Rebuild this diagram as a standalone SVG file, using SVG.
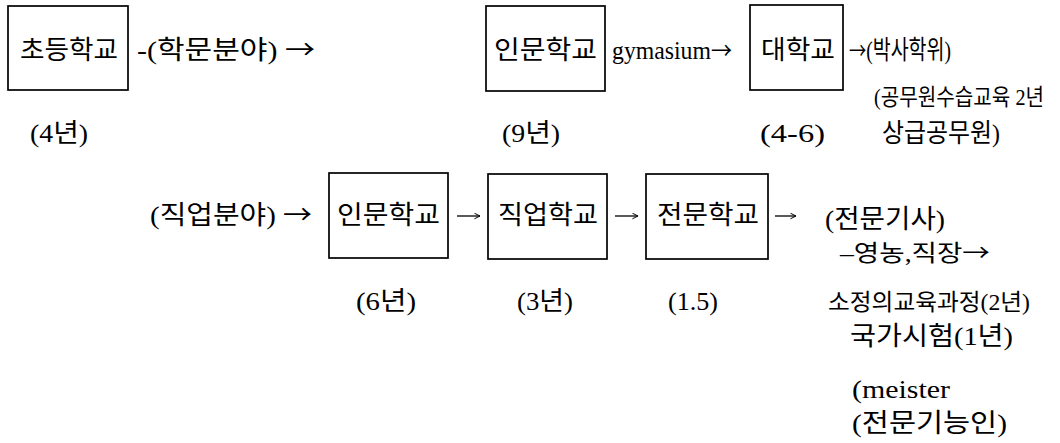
<svg xmlns="http://www.w3.org/2000/svg" width="1060" height="443" viewBox="0 0 1060 443">
<style>
.bx{fill:#fff;stroke:#000;stroke-width:1.7}
.t{font-family:"Liberation Serif","Noto Sans CJK KR",serif;font-size:26px;fill:#000}
.s{font-family:"Liberation Serif","Noto Sans CJK KR",serif;font-size:23px;fill:#000}
.ar{font-family:"Noto Sans CJK KR",sans-serif}
.c{stroke:#000;stroke-width:1.3;fill:none}
</style>
<defs>
<marker id="ah" viewBox="0 0 10 10" refX="9" refY="5" markerWidth="7" markerHeight="7" orient="auto" markerUnits="userSpaceOnUse">
<path d="M1,1 L9,5 L1,9" fill="none" stroke="#000" stroke-width="1.4"/>
</marker>
</defs>
<rect width="1060" height="443" fill="#fff"/>
<g id="n-elementary">
<rect class="bx" x="8" y="6" width="120" height="84"/>
<text class="t" x="20" y="59" textLength="98" lengthAdjust="spacingAndGlyphs">초등학교</text>
<text class="t" x="30" y="142" textLength="58" lengthAdjust="spacingAndGlyphs">(4년)</text>
</g>
<text class="t" x="137" y="59" textLength="178" lengthAdjust="spacingAndGlyphs">-(학문분야) <tspan class="ar">→</tspan></text>
<g id="n-gym">
<rect class="bx" x="486" y="6" width="119" height="85"/>
<text class="t" x="494" y="59" textLength="103" lengthAdjust="spacingAndGlyphs">인문학교</text>
<text class="t" x="502" y="142" textLength="58" lengthAdjust="spacingAndGlyphs">(9년)</text>
</g>
<text class="t" x="612" y="59" font-size="25" textLength="120" lengthAdjust="spacingAndGlyphs">gymasium<tspan class="ar" font-size="23">→</tspan></text>
<g id="n-univ">
<rect class="bx" x="750" y="5" width="93" height="85"/>
<text class="t" x="761" y="59" textLength="74" lengthAdjust="spacingAndGlyphs">대학교</text>
<text class="t" x="760" y="142" textLength="65" lengthAdjust="spacingAndGlyphs">(4-6)</text>
</g>
<g id="n-phd">
<text class="t" x="849" y="59" textLength="102" lengthAdjust="spacingAndGlyphs"><tspan class="ar" font-size="23">→</tspan>(박사학위)</text>
<text class="s" x="874" y="105" font-size="19" textLength="170" lengthAdjust="spacingAndGlyphs">(공무원수습교육 2년</text>
<text class="t" x="882" y="142" textLength="118" lengthAdjust="spacingAndGlyphs">상급공무원)</text>
</g>
<text class="t" x="150" y="224" textLength="162" lengthAdjust="spacingAndGlyphs">(직업분야) <tspan class="ar">→</tspan></text>
<g id="n-gym2">
<rect class="bx" x="329" y="173" width="119" height="85"/>
<text class="t" x="337" y="224" textLength="103" lengthAdjust="spacingAndGlyphs">인문학교</text>
<text class="t" x="356" y="310" textLength="60" lengthAdjust="spacingAndGlyphs">(6년)</text>
</g>
<g id="n-voc">
<rect class="bx" x="488" y="174" width="119" height="85"/>
<text class="t" x="498" y="224" textLength="100" lengthAdjust="spacingAndGlyphs">직업학교</text>
<text class="t" x="517" y="310" textLength="56" lengthAdjust="spacingAndGlyphs">(3년)</text>
</g>
<g id="n-spec">
<rect class="bx" x="646" y="174" width="122" height="85"/>
<text class="t" x="657" y="224" textLength="102" lengthAdjust="spacingAndGlyphs">전문학교</text>
<text class="t" x="668" y="310" textLength="50" lengthAdjust="spacingAndGlyphs">(1.5)</text>
</g>
<g id="n-meister">
<text class="t" x="825" y="228" textLength="120" lengthAdjust="spacingAndGlyphs">(전문기사)</text>
<text class="s" x="840" y="261" textLength="150" lengthAdjust="spacingAndGlyphs">–영농,직장<tspan class="ar">→</tspan></text>
<text class="s" x="828" y="310" textLength="202" lengthAdjust="spacingAndGlyphs">소정의교육과정(2년)</text>
<text class="t" x="850" y="345" textLength="163" lengthAdjust="spacingAndGlyphs">국가시험(1년)</text>
<text class="t" x="852" y="398" font-size="25" textLength="98" lengthAdjust="spacingAndGlyphs">(meister</text>
<text class="t" x="852" y="432" textLength="155" lengthAdjust="spacingAndGlyphs">(전문기능인)</text>
</g>
<g id="connectors">
<path class="c" d="M457,216 H480" marker-end="url(#ah)"/>
<path class="c" d="M615,216 H638" marker-end="url(#ah)"/>
<path class="c" d="M775,216 H796" marker-end="url(#ah)"/>
</g>
</svg>
